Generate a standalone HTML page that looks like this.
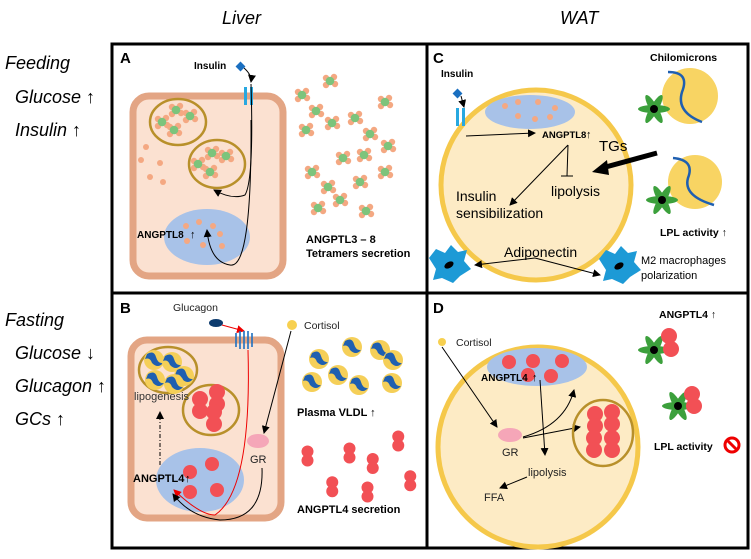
<!DOCTYPE html>
<html><head><meta charset="utf-8"><style>
body{margin:0;background:#fff}
svg{display:block;font-family:"Liberation Sans",sans-serif}
.b{font-weight:bold}
.it{font-style:italic}
</style></head><body>
<svg width="751" height="559" viewBox="0 0 751 559" xmlns="http://www.w3.org/2000/svg">
<defs>
<marker id="ah" markerWidth="8" markerHeight="8" refX="7" refY="4" orient="auto" markerUnits="userSpaceOnUse"><path d="M0,0 L8,4 L0,8 z" fill="#000"/></marker>
<marker id="ahr" markerWidth="8" markerHeight="8" refX="7" refY="4" orient="auto" markerUnits="userSpaceOnUse"><path d="M0,0 L8,4 L0,8 z" fill="#e00"/></marker>
<g id="tet"><circle cx="-4" cy="-3" r="3.2" fill="#f4a882"/><circle cx="4" cy="-4" r="3.2" fill="#f4a882"/><circle cx="-4" cy="4" r="3.2" fill="#f4a882"/><circle cx="5" cy="3" r="3.2" fill="#f4a882"/><circle cx="0" cy="0" r="4.3" fill="#7cc47c"/></g>
<g id="vl"><circle r="10" fill="#f5cf58"/><path d="M-7,-6 Q0,-10 2,-3 Q4,4 9,3 Q4,9 -2,3 Q-4,-3 -9,-1 Z" fill="#1f5fb0"/></g>
<g id="a4"><circle cx="0" cy="-6" r="8" fill="#f25055"/><circle cx="0" cy="6" r="8" fill="#f25055"/></g>
<g id="lpl" fill="#3ca03c"><ellipse rx="16" ry="4"/><ellipse rx="16" ry="4" transform="rotate(60)"/><ellipse rx="16" ry="4" transform="rotate(120)"/><circle r="4" fill="#000"/></g>
<g id="mac"><path d="M-20,-7 L-13,-16 L-4,-12 L2,-20 L9,-13 L18,-15 L15,-4 L22,4 L11,11 L4,18 L-7,13 L-16,15 L-13,4 Z" fill="#1d9ad6"/><ellipse rx="5" ry="3" fill="#000" transform="rotate(-30)"/></g>
</defs>

<text x="222" y="24" font-size="18" class="it">Liver</text>
<text x="560" y="24" font-size="18" class="it">WAT</text>
<text x="5" y="69" font-size="18" class="it">Feeding</text>
<text x="15" y="103" font-size="18" class="it">Glucose ↑</text>
<text x="15" y="136" font-size="18" class="it">Insulin ↑</text>
<text x="5" y="326" font-size="18" class="it">Fasting</text>
<text x="15" y="359" font-size="18" class="it">Glucose ↓</text>
<text x="15" y="392" font-size="18" class="it">Glucagon ↑</text>
<text x="15" y="425" font-size="18" class="it">GCs ↑</text>

<rect x="112" y="44" width="636" height="504" fill="none" stroke="#000" stroke-width="3"/>
<line x1="427" y1="44" x2="427" y2="548" stroke="#000" stroke-width="3"/>
<line x1="112" y1="293" x2="748" y2="293" stroke="#000" stroke-width="3"/>

<!-- Panel A -->
<text x="120" y="63" font-size="15" class="b">A</text>
<rect x="133" y="96" width="150" height="180" rx="16" fill="#fbe1d1" stroke="#e3a584" stroke-width="7"/>
<ellipse cx="207" cy="237" rx="43" ry="28" fill="#a8c2e8"/>
<ellipse cx="178" cy="122" rx="28" ry="23" fill="none" stroke="#b8902a" stroke-width="2.5"/>
<ellipse cx="217" cy="164" rx="28" ry="24" fill="none" stroke="#b8902a" stroke-width="2.5"/>
<use href="#tet" x="176" y="110"/><use href="#tet" x="162" y="122"/><use href="#tet" x="190" y="116"/><use href="#tet" x="174" y="130"/>
<use href="#tet" x="212" y="153"/><use href="#tet" x="198" y="164"/><use href="#tet" x="226" y="156"/><use href="#tet" x="210" y="172"/>
<g fill="#f4a882"><circle cx="146" cy="147" r="3"/><circle cx="141" cy="160" r="3"/><circle cx="160" cy="163" r="3"/><circle cx="150" cy="177" r="3"/><circle cx="163" cy="182" r="3"/>
<circle cx="186" cy="226" r="3"/><circle cx="199" cy="222" r="3"/><circle cx="213" cy="226" r="3"/><circle cx="220" cy="234" r="3"/><circle cx="187" cy="241" r="3"/><circle cx="203" cy="245" r="3"/><circle cx="222" cy="246" r="3"/></g>
<text x="194" y="69" font-size="10" class="b">Insulin</text>
<rect x="237" y="63" width="7" height="7" fill="#1a6fc0" transform="rotate(45 240.5 66.5)"/>
<rect x="244" y="87" width="3" height="18" fill="#28a8e0"/><rect x="250" y="87" width="3" height="18" fill="#28a8e0"/>
<path d="M244,68 Q252,75 251,82" fill="none" stroke="#000" stroke-width="1" marker-end="url(#ah)"/>
<path d="M251,84 Q254,180 245,195 Q232,200 214,190" fill="none" stroke="#000" stroke-width="1" marker-end="url(#ah)"/>
<path d="M251,120 Q252,270 230,265 Q210,262 207,230" fill="none" stroke="#000" stroke-width="1" marker-end="url(#ah)"/>
<text x="137" y="238" font-size="10" class="b">ANGPTL8</text>
<text x="190" y="238" font-size="11" class="b">↑</text>
<text x="306" y="243" font-size="11" class="b">ANGPTL3 – 8</text>
<text x="306" y="257" font-size="11" class="b">Tetramers secretion</text>
<g>
<use href="#tet" x="330" y="81"/><use href="#tet" x="302" y="95"/><use href="#tet" x="385" y="102"/><use href="#tet" x="316" y="111"/><use href="#tet" x="355" y="118"/><use href="#tet" x="332" y="123"/><use href="#tet" x="306" y="130"/><use href="#tet" x="370" y="134"/><use href="#tet" x="388" y="146"/><use href="#tet" x="343" y="158"/><use href="#tet" x="364" y="155"/><use href="#tet" x="312" y="172"/><use href="#tet" x="385" y="172"/><use href="#tet" x="328" y="187"/><use href="#tet" x="360" y="182"/><use href="#tet" x="340" y="200"/><use href="#tet" x="318" y="208"/><use href="#tet" x="366" y="211"/>
</g>

<!-- Panel C -->
<text x="433" y="63" font-size="15" class="b">C</text>
<circle cx="536" cy="185" r="95" fill="#fdebc5" stroke="#f5c84a" stroke-width="5"/>
<ellipse cx="530" cy="112" rx="45" ry="17" fill="#a8c2e8"/>
<g fill="#f4a882"><circle cx="505" cy="106" r="3"/><circle cx="518" cy="102" r="3"/><circle cx="538" cy="102" r="3"/><circle cx="555" cy="108" r="3"/><circle cx="518" cy="116" r="3"/><circle cx="535" cy="119" r="3"/><circle cx="550" cy="117" r="3"/></g>
<text x="441" y="77" font-size="10" class="b">Insulin</text>
<rect x="454" y="90" width="7" height="7" fill="#1a6fc0" transform="rotate(45 457.5 93.5)"/>
<rect x="456" y="108" width="3" height="18" fill="#28a8e0"/><rect x="462" y="108" width="3" height="18" fill="#28a8e0"/>
<path d="M461,96 L464,107" stroke="#000" fill="none" marker-end="url(#ah)"/>
<path d="M466,136 L535,133" stroke="#000" fill="none" marker-end="url(#ah)"/>
<text x="542" y="138" font-size="9.5" class="b">ANGPTL8</text>
<text x="586" y="138" font-size="11" class="b">↑</text>
<text x="599" y="151" font-size="15">TGs</text>
<path d="M657,153 L602,168" stroke="#000" stroke-width="5" fill="none"/><path d="M592,172 L607,160 L609,175 Z" fill="#000"/>
<path d="M568,145 L510,205" stroke="#000" fill="none" marker-end="url(#ah)"/>
<path d="M568,145 L567,176 M561,176 L573,176" stroke="#000" fill="none"/>
<text x="551" y="196" font-size="14">lipolysis</text>
<text x="456" y="201" font-size="14">Insulin</text>
<text x="456" y="218" font-size="14">sensibilization</text>
<text x="504" y="257" font-size="14">Adiponectin</text>
<path d="M535,258 L475,265" stroke="#000" fill="none" marker-end="url(#ah)"/>
<path d="M535,258 L600,275" stroke="#000" fill="none" marker-end="url(#ah)"/>
<use href="#mac" x="449" y="265"/>
<use href="#mac" x="619" y="266"/>
<text x="641" y="264" font-size="11">M2 macrophages</text>
<text x="641" y="279" font-size="11">polarization</text>
<text x="650" y="61" font-size="10.5" class="b">Chilomicrons</text>
<circle cx="690" cy="96" r="28" fill="#f8d463"/><path d="M668,72 Q690,72 682,92 Q676,112 702,122" fill="none" stroke="#1f5fb0" stroke-width="2.5"/>
<use href="#lpl" x="654" y="109"/>
<circle cx="695" cy="182" r="27" fill="#f8d463"/><path d="M673,158 Q695,160 688,178 Q683,196 714,205" fill="none" stroke="#1f5fb0" stroke-width="2.5"/>
<use href="#lpl" x="662" y="200"/>
<text x="660" y="236" font-size="10.5" class="b">LPL activity ↑</text>

<!-- Panel B -->
<text x="120" y="313" font-size="15" class="b">B</text>
<rect x="131" y="340" width="150" height="178" rx="16" fill="#fbe1d1" stroke="#e3a584" stroke-width="7"/>
<ellipse cx="200" cy="480" rx="44" ry="32" fill="#a8c2e8"/>
<ellipse cx="168" cy="370" rx="29" ry="23" fill="#fbe1d1" stroke="#b8902a" stroke-width="2.5"/>
<use href="#vl" x="154" y="360"/><use href="#vl" x="172" y="362"/><use href="#vl" x="184" y="376"/><use href="#vl" x="155" y="380"/><use href="#vl" x="174" y="384"/>
<ellipse cx="211" cy="410" rx="28" ry="25" fill="#fbe1d1" stroke="#b8902a" stroke-width="2.5"/>
<use href="#a4" x="200" y="405"/><use href="#a4" x="217" y="398"/><use href="#a4" x="214" y="418"/>
<circle cx="190" cy="472" r="7" fill="#f25055"/><circle cx="212" cy="464" r="7" fill="#f25055"/><circle cx="190" cy="492" r="7" fill="#f25055"/><circle cx="217" cy="490" r="7" fill="#f25055"/>
<text x="134" y="400" font-size="11" fill="#333">lipogenesis</text>
<path d="M160,465 L160,412" stroke="#000" stroke-dasharray="4,2,1,2" fill="none" marker-end="url(#ah)"/>
<text x="133" y="482" font-size="11" class="b">ANGPTL4</text>
<text x="185" y="482" font-size="11" class="b">↑</text>
<text x="173" y="311" font-size="10.5" fill="#222">Glucagon</text>
<ellipse cx="216" cy="323" rx="7" ry="4" fill="#0d3b6e"/>
<path d="M222,325 L244,331" stroke="#e00" fill="none" marker-end="url(#ahr)"/>
<g fill="none" stroke="#1d6fc0" stroke-width="1.6"><path d="M236,333 v14 M240,331 v18 M244,331 v18 M248,331 v18 M252,333 v14"/></g>
<path d="M248,350 Q252,490 215,515 Q200,515 174,490" stroke="#e00" fill="none" marker-end="url(#ahr)"/>
<circle cx="292" cy="325" r="5" fill="#f7d050"/>
<text x="304" y="329" font-size="10.5" fill="#222">Cortisol</text>
<path d="M291,331 L264,433" stroke="#000" fill="none" marker-end="url(#ah)"/>
<ellipse cx="258" cy="441" rx="11" ry="7" fill="#f5a6b8"/>
<text x="250" y="463" font-size="11" fill="#222">GR</text>
<path d="M262,468 Q264,520 220,520 Q190,517 173,494" stroke="#000" fill="none" marker-end="url(#ah)"/>
<use href="#vl" x="352" y="347"/><use href="#vl" x="380" y="350"/><use href="#vl" x="393" y="360"/><use href="#vl" x="319" y="359"/><use href="#vl" x="338" y="375"/><use href="#vl" x="359" y="385"/><use href="#vl" x="312" y="382"/><use href="#vl" x="392" y="383"/>
<text x="297" y="416" font-size="11" class="b">Plasma VLDL ↑</text>
<g transform="scale(0.75)">
<use href="#a4" x="410" y="608"/><use href="#a4" x="466" y="604"/><use href="#a4" x="497" y="618"/><use href="#a4" x="531" y="588"/><use href="#a4" x="443" y="649"/><use href="#a4" x="490" y="656"/><use href="#a4" x="547" y="641"/>
</g>
<text x="297" y="513" font-size="11" class="b">ANGPTL4 secretion</text>

<!-- Panel D -->
<text x="433" y="313" font-size="15" class="b">D</text>
<circle cx="538" cy="447" r="100" fill="#fdebc5" stroke="#f5c84a" stroke-width="5"/>
<ellipse cx="537" cy="367" rx="50" ry="19" fill="#a8c2e8"/>
<circle cx="509" cy="362" r="7" fill="#f25055"/><circle cx="533" cy="361" r="7" fill="#f25055"/><circle cx="562" cy="361" r="7" fill="#f25055"/><circle cx="528" cy="375" r="7" fill="#f25055"/><circle cx="551" cy="376" r="7" fill="#f25055"/>
<text x="481" y="381" font-size="10" class="b">ANGPTL4</text>
<text x="532" y="381" font-size="11" class="b">↑</text>
<circle cx="442" cy="342" r="4" fill="#f7d050"/>
<text x="456" y="346" font-size="10.5" fill="#222">Cortisol</text>
<path d="M442,347 L497,427" stroke="#000" fill="none" marker-end="url(#ah)"/>
<ellipse cx="510" cy="435" rx="12" ry="7" fill="#f5a6b8"/>
<text x="502" y="456" font-size="11" fill="#222">GR</text>
<path d="M523,437 Q565,425 574,390" stroke="#000" fill="none" marker-end="url(#ah)"/>
<path d="M523,438 L580,427" stroke="#000" fill="none" marker-end="url(#ah)"/>
<path d="M540,380 L545,455" stroke="#000" fill="none" marker-end="url(#ah)"/>
<ellipse cx="603" cy="433" rx="30" ry="33" fill="none" stroke="#b8902a" stroke-width="2.5"/>
<use href="#a4" x="595" y="420"/><use href="#a4" x="612" y="418"/><use href="#a4" x="594" y="444"/><use href="#a4" x="612" y="444"/>
<text x="528" y="476" font-size="11" fill="#222">lipolysis</text>
<path d="M527,477 L500,488" stroke="#000" fill="none" marker-end="url(#ah)"/>
<text x="484" y="501" font-size="11" fill="#222">FFA</text>
<text x="659" y="318" font-size="10.5" class="b">ANGPTL4 ↑</text>
<use href="#lpl" x="654" y="350"/><circle cx="669" cy="336" r="8" fill="#f25055"/><circle cx="671" cy="349" r="8" fill="#f25055"/>
<use href="#lpl" x="678" y="406"/><circle cx="692" cy="394" r="8" fill="#f25055"/><circle cx="694" cy="406" r="8" fill="#f25055"/>
<text x="654" y="450" font-size="10.5" class="b">LPL activity</text>
<circle cx="732" cy="445" r="7" fill="none" stroke="#e00" stroke-width="3"/><line x1="727" y1="440" x2="737" y2="450" stroke="#e00" stroke-width="3"/>
</svg>
</body></html>
